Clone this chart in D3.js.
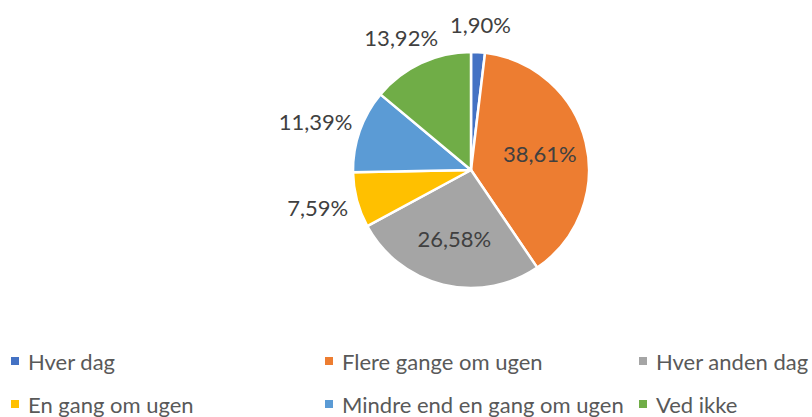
<!DOCTYPE html>
<html>
<head>
<meta charset="utf-8">
<script src="https://cdn.jsdelivr.net/npm/d3@7"></script>
<style>
  html, body { margin: 0; padding: 0; background: #fff; }
  svg { display: block; }
  text { font-family: Lato, "Open Sans", sans-serif; }
</style>
</head>
<body>
<svg id="chart" width="812" height="417"></svg>
<script>
// ---- data ----
const categories = ["Hver dag", "Flere gange om ugen", "Hver anden dag", "En gang om ugen", "Mindre end en gang om ugen", "Ved ikke"];
const values = [1.90, 38.61, 26.58, 7.59, 11.39, 13.92];
const colors = ["#4472C4", "#ED7D31", "#A5A5A5", "#FFC000", "#5B9BD5", "#70AD47"];
const insideLabel = [false, true, true, false, false, false];

// ---- layout ----
const W = 812, H = 417;
const cx = 471, cy = 170, R = 118;
const fmt = v => v.toFixed(2).replace(".", ",") + "%";

const svg = d3.select("#chart");
const g = svg.append("g").attr("transform", `translate(${cx},${cy})`);

const pie = d3.pie().sort(null).value(d => d.value);
const data = categories.map((c, i) => ({ name: c, value: values[i], color: colors[i], inside: insideLabel[i] }));
const arcs = pie(data);
const arc = d3.arc().innerRadius(0).outerRadius(R);

g.selectAll("path.slice").data(arcs).enter().append("path")
  .attr("class", "slice")
  .attr("d", arc)
  .attr("fill", d => d.data.color)
  .attr("stroke", "#fff")
  .attr("stroke-width", 2.5)
  .attr("stroke-linejoin", "round");

// labels
const inArc = d3.arc().innerRadius(R * 0.6).outerRadius(R * 0.6);
const outR = R + 10;
const fontSize = 22;
arcs.forEach(d => {
  const t = g.append("text")
    .attr("font-size", fontSize)
    .attr("fill", "#404040")
    .attr("text-anchor", "middle")
    .attr("dominant-baseline", "central")
    .text(fmt(d.data.value));
  const mid = (d.startAngle + d.endAngle) / 2;
  if (d.data.inside) {
    const [x, y] = inArc.centroid(d);
    t.attr("x", x).attr("y", y);
  } else {
    const bb = t.node().getBBox();
    const hw = bb.width / 2, hh = 18;
    const px = outR * Math.sin(mid), py = -outR * Math.cos(mid);
    t.attr("x", px + hw * Math.sin(mid)).attr("y", py - hh * Math.cos(mid));
  }
});

// legend
const colX = d3.scaleLinear().domain([0, 2]).range([11, 639]);
const rowY = d3.scaleLinear().domain([0, 1]).range([361, 404]);
const legend = svg.append("g");
data.forEach((d, i) => {
  const col = i % 3, row = Math.floor(i / 3);
  const x = colX(col), y = rowY(row);
  legend.append("rect")
    .attr("x", x).attr("y", y - 4).attr("width", 8).attr("height", 8)
    .attr("fill", d.color);
  legend.append("text")
    .attr("x", x + 17).attr("y", y)
    .attr("dominant-baseline", "central")
    .attr("font-size", fontSize)
    .attr("fill", "#595959")
    .text(d.name);
});
</script>
</body>
</html>
